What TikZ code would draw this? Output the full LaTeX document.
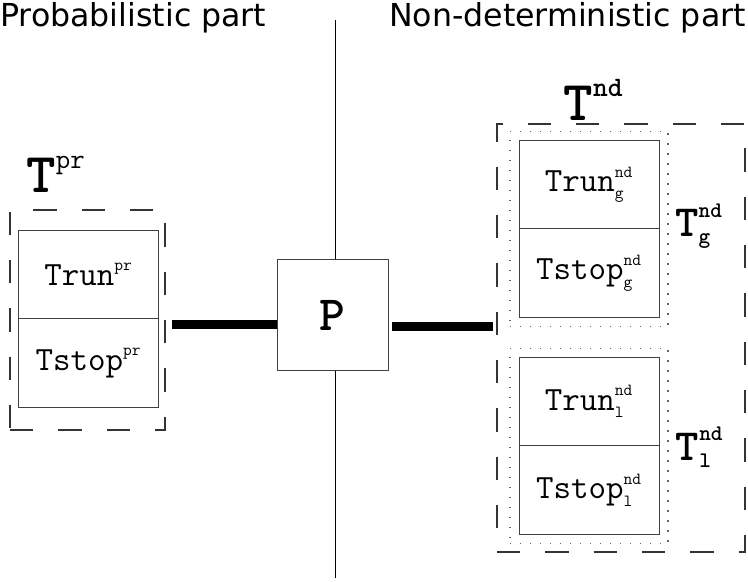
\documentclass[tikz,border=0pt]{standalone}
\usepackage{amsmath}
\usepackage{fontspec}
\setsansfont{DejaVu Sans}
\renewcommand\defaultscriptratio{.5}
\usetikzlibrary{positioning,fit}

\begin{document}
\begin{tikzpicture}
\tikzset{title/.style={font=\sffamily\fontsize{27}{32}\selectfont, inner sep=0pt}}
\tikzset{tbox/.style={rectangle, draw=black!75, line width=0.8pt, minimum width=4.2cm, minimum height=2.66cm, outer sep=0pt, font=\ttfamily\fontsize{29}{32}\selectfont, fill=white}}
\tikzset{pbox/.style={rectangle, draw=black!75, line width=0.8pt, minimum size=3.33cm, font=\ttfamily\bfseries\fontsize{42}{48}\selectfont, fill=white}}
\tikzset{dashbox/.style={rectangle, draw=black!80, line width=1pt, dash pattern=on 0.7cm off 0.75cm, inner sep=0pt}}
\tikzset{dotbox/.style={rectangle, draw=black!60, line width=1pt, dash pattern=on 0.04cm off 0.26cm, inner sep=0.27cm}}
\tikzset{tlabel/.style={font=\ttfamily\bfseries\fontsize{48}{52}\selectfont, inner sep=0pt}}
\tikzset{link/.style={line width=0.27cm}}
\useasboundingbox (0,0) rectangle (22.44,-17.43);

\node[title, anchor=base west] (prtitle) at (0,-0.8) {Probabilistic part};
\node[title, anchor=base east] (ndtitle) at (22.38,-0.8) {Non-deterministic part};

% dividing line and the P box
\coordinate (vtop) at (10.05,-0.6);
\coordinate (vbot) at (10.05,-17.34);
\draw[line width=0.8pt] (vtop) -- (vbot);
\node[pbox] (P) at (9.975,-9.45) {P};

% probabilistic part
\node[tbox] (runpr) at (2.655,-8.235) {$\text{Trun}^{\text{pr}}$};
\node[tbox, below=0pt of runpr] (stoppr) {$\text{Tstop}^{\text{pr}}$};
\coordinate (prnw) at (0.3,-6.3);
\coordinate (prse) at (4.95,-12.9);
\node[dashbox, fit=(prnw)(prse)] (Tpr) {};
\node[tlabel, anchor=base west] (lpr) at ([xshift=0.5cm, yshift=0.52cm]Tpr.north west) {$\text{T}^{\text{\mdseries pr}}$};

% non-deterministic part
\node[tbox] (rung) at (17.67,-5.535) {$\text{Trun}^{\text{nd}}_{\text{g}}$};
\node[tbox, below=0pt of rung] (stopg) {$\text{Tstop}^{\text{nd}}_{\text{g}}$};
\node[dotbox, fit=(rung)(stopg)] (dotg) {};
\node[tbox] (runl) at (17.67,-12.045) {$\text{Trun}^{\text{nd}}_{\text{l}}$};
\node[tbox, below=0pt of runl] (stopl) {$\text{Tstop}^{\text{nd}}_{\text{l}}$};
\node[dotbox, fit=(runl)(stopl)] (dotl) {};
\coordinate (ndnw) at (14.91,-3.72);
\coordinate (ndse) at (22.35,-16.56);
\node[dashbox, fit=(ndnw)(ndse)] (Tnd) {};
\node[tlabel, anchor=base west] (lnd) at (16.9,-3.6) {$\text{T}^{\text{nd}}$};
\node[tlabel, anchor=base west, font=\ttfamily\bfseries\fontsize{38}{42}\selectfont] (lg) at (20.25,-7.1) {$\text{T}^{\text{nd}}_{\text{g}}$};
\node[tlabel, anchor=base west, font=\ttfamily\bfseries\fontsize{38}{42}\selectfont] (ll) at (20.27,-13.8) {$\text{T}^{\text{nd}}_{\text{l}}$};

% links to P
\coordinate (lend) at (5.16,-9.74);
\coordinate (rend) at (14.79,-9.78);
\draw[link] (lend) -- (lend -| P.west);
\draw[link] ([xshift=0.12cm]P.east |- rend) -- (rend);
\end{tikzpicture}
\end{document}
